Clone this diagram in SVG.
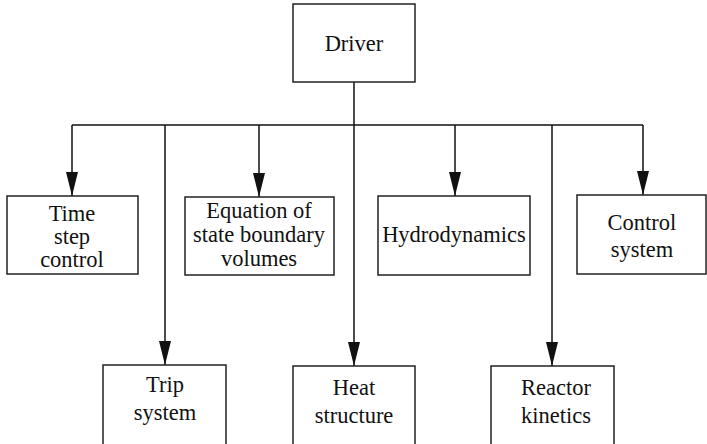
<svg xmlns="http://www.w3.org/2000/svg" width="707" height="444" viewBox="0 0 707 444">
<style>
.box{fill:#fff;stroke:#222;stroke-width:1.5}
.t{font-family:'Liberation Serif','Times New Roman',serif;font-size:22.5px;fill:#111;text-anchor:middle}
.c{fill:none;stroke:#111;stroke-width:1.5}
</style>
<defs>
<marker id="ah" markerUnits="userSpaceOnUse" markerWidth="24" markerHeight="12" refX="24" refY="6" orient="auto">
<path d="M0,0 L24,6 L0,12 z" fill="#111"/>
</marker>
</defs>
<rect width="707" height="444" fill="#fff"/>
<g id="connectors">
<line class="c" x1="354" y1="82" x2="354" y2="125"/>
<line class="c" x1="72" y1="125" x2="643" y2="125"/>
<line class="c" x1="72" y1="125" x2="72" y2="196" marker-end="url(#ah)"/>
<line class="c" x1="259" y1="125" x2="259" y2="197" marker-end="url(#ah)"/>
<line class="c" x1="455" y1="125" x2="455" y2="196" marker-end="url(#ah)"/>
<line class="c" x1="643" y1="125" x2="643" y2="195" marker-end="url(#ah)"/>
<line class="c" x1="165" y1="125" x2="165" y2="365" marker-end="url(#ah)"/>
<line class="c" x1="354" y1="125" x2="354" y2="366" marker-end="url(#ah)"/>
<line class="c" x1="552" y1="125" x2="552" y2="366" marker-end="url(#ah)"/>
</g>
<g id="driver">
<rect class="box" x="293" y="4" width="122" height="78"/>
<text class="t" x="354" y="51">Driver</text>
</g>
<g id="time-step-control">
<rect class="box" x="7" y="196" width="131" height="78"/>
<text class="t" x="72" y="221">Time</text>
<text class="t" x="72" y="244">step</text>
<text class="t" x="72" y="267">control</text>
</g>
<g id="equation-of-state">
<rect class="box" x="185" y="197" width="149" height="78"/>
<text class="t" x="259" y="218">Equation of</text>
<text class="t" x="259" y="242">state boundary</text>
<text class="t" x="259" y="266">volumes</text>
</g>
<g id="hydrodynamics">
<rect class="box" x="378" y="196" width="152" height="79"/>
<text class="t" x="454" y="242">Hydrodynamics</text>
</g>
<g id="control-system">
<rect class="box" x="577" y="195" width="129" height="79"/>
<text class="t" x="642" y="230">Control</text>
<text class="t" x="642" y="257">system</text>
</g>
<g id="trip-system">
<rect class="box" x="103" y="365" width="123" height="90"/>
<text class="t" x="165" y="392">Trip</text>
<text class="t" x="165" y="420">system</text>
</g>
<g id="heat-structure">
<rect class="box" x="293" y="366" width="122" height="90"/>
<text class="t" x="354" y="395">Heat</text>
<text class="t" x="354" y="423">structure</text>
</g>
<g id="reactor-kinetics">
<rect class="box" x="491" y="366" width="123" height="90"/>
<text class="t" x="556" y="395">Reactor</text>
<text class="t" x="556" y="423">kinetics</text>
</g>
</svg>
